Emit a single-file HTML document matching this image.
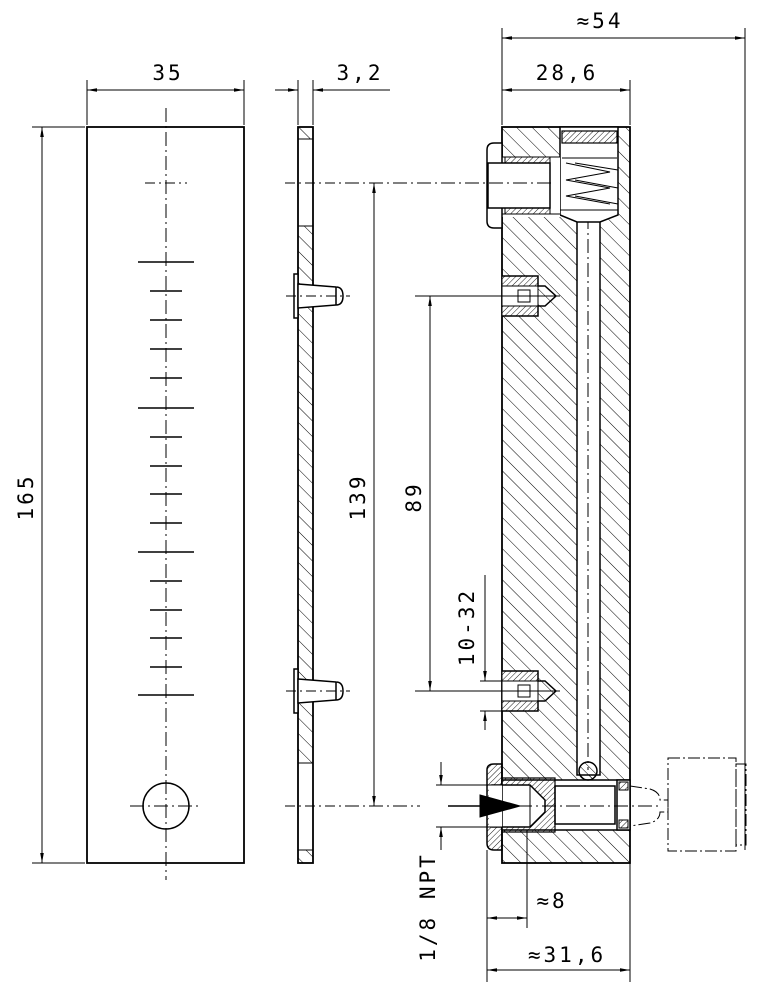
<!DOCTYPE html>
<html><head><meta charset="utf-8"><style>
html,body{margin:0;padding:0;background:#fff;}
svg{display:block;}
text{font-family:"DejaVu Sans Mono","Liberation Mono",monospace;font-size:21px;fill:#000;letter-spacing:3px;font-weight:lighter;}
</style></head><body>
<svg width="764" height="1000" viewBox="0 0 764 1000" xmlns="http://www.w3.org/2000/svg">
<defs>
<pattern id="h" width="11" height="11" patternUnits="userSpaceOnUse" patternTransform="rotate(-45)">
<line x1="0" y1="0" x2="0" y2="11" stroke="#000" stroke-width="1"/></pattern>
<pattern id="hf" width="4" height="4" patternUnits="userSpaceOnUse" patternTransform="rotate(45)">
<line x1="0" y1="0" x2="0" y2="4" stroke="#000" stroke-width="0.9"/></pattern>
<pattern id="hs" width="6" height="6" patternUnits="userSpaceOnUse" patternTransform="rotate(-45)">
<line x1="0" y1="0" x2="0" y2="6" stroke="#000" stroke-width="1"/></pattern>
<marker id="a" viewBox="0 0 10 10" refX="10" refY="5" markerWidth="10" markerHeight="10" markerUnits="userSpaceOnUse" orient="auto-start-reverse">
<path d="M0,3.2 L10,5 L0,6.8z" fill="#000"/></marker>
</defs>
<g stroke="#000" fill="none" stroke-width="1">
<rect x="87" y="127" width="157" height="736" stroke-width="1.8"/>
<line x1="166" y1="108" x2="166" y2="880" stroke-dasharray="14,4,2,4"/>
<line x1="145" y1="183" x2="187" y2="183" stroke-dasharray="10,4,2,4"/>
<line x1="130" y1="806" x2="202" y2="806" stroke-dasharray="14,4,2,4"/>
<circle cx="166" cy="806" r="23" stroke-width="1.5"/>
<g stroke-width="1.5">
<line x1="138" y1="262" x2="194" y2="262"/><line x1="150" y1="291" x2="182" y2="291"/>
<line x1="150" y1="320" x2="182" y2="320"/><line x1="150" y1="349" x2="182" y2="349"/>
<line x1="150" y1="378" x2="182" y2="378"/><line x1="138" y1="408" x2="194" y2="408"/>
<line x1="150" y1="437" x2="182" y2="437"/><line x1="150" y1="466" x2="182" y2="466"/>
<line x1="150" y1="494" x2="182" y2="494"/><line x1="150" y1="523" x2="182" y2="523"/>
<line x1="138" y1="552" x2="194" y2="552"/><line x1="150" y1="581" x2="182" y2="581"/>
<line x1="150" y1="610" x2="182" y2="610"/><line x1="150" y1="638" x2="182" y2="638"/>
<line x1="150" y1="667" x2="182" y2="667"/><line x1="138" y1="695" x2="194" y2="695"/>
</g>
<line x1="87" y1="80" x2="87" y2="125"/><line x1="244" y1="80" x2="244" y2="125"/>
<line x1="87" y1="90" x2="244" y2="90" marker-start="url(#a)" marker-end="url(#a)"/>
<line x1="32" y1="127" x2="85" y2="127"/><line x1="32" y1="863" x2="85" y2="863"/>
<line x1="42" y1="127" x2="42" y2="863" marker-start="url(#a)" marker-end="url(#a)"/>

<rect x="298" y="127" width="15" height="12" fill="url(#h)"/>
<rect x="298" y="226" width="15" height="537" fill="url(#h)"/>
<rect x="298" y="850" width="15" height="13" fill="url(#h)"/>
<rect x="298" y="127" width="15" height="736" stroke-width="1.8"/>
<line x1="298" y1="139" x2="313" y2="139"/><line x1="298" y1="226" x2="313" y2="226"/>
<line x1="298" y1="763" x2="313" y2="763"/><line x1="298" y1="850" x2="313" y2="850"/>
<line x1="285" y1="183" x2="345" y2="183" stroke-dasharray="10,4,2,4"/>
<line x1="285" y1="806" x2="345" y2="806" stroke-dasharray="10,4,2,4"/>
<g stroke-width="1.5">
<rect x="294" y="274" width="4" height="44" fill="#fff"/>
<path d="M298,284 L336,287 Q343,287 343,296 Q343,305 336,305 L298,308 Z" fill="#fff"/>
<line x1="336" y1="287" x2="336" y2="305"/>
<rect x="294" y="669" width="4" height="44" fill="#fff"/>
<path d="M298,679 L336,682 Q343,682 343,691 Q343,700 336,700 L298,703 Z" fill="#fff"/>
<line x1="336" y1="682" x2="336" y2="700"/>
</g>
<line x1="286" y1="296" x2="350" y2="296" stroke-dasharray="10,4,2,4"/>
<line x1="286" y1="691" x2="350" y2="691" stroke-dasharray="10,4,2,4"/>
<line x1="298" y1="80" x2="298" y2="125"/><line x1="313" y1="80" x2="313" y2="125"/>
<line x1="275" y1="90" x2="298" y2="90" marker-end="url(#a)"/>
<line x1="313" y1="90" x2="390" y2="90" marker-start="url(#a)"/>

<rect x="502" y="127" width="128" height="736" fill="url(#h)" stroke-width="1.8"/>
<rect x="577" y="215" width="23" height="560" fill="#fff" stroke-width="1.5"/>
<line x1="588" y1="215" x2="588" y2="770" stroke-dasharray="14,4,2,4"/>
<path d="M560,127 L560,215 L577,222 L600,222 L618,215 L618,127 Z" fill="#fff" stroke-width="1.5"/>
<rect x="562" y="131" width="55" height="12" fill="url(#hf)" stroke-width="1.2"/>
<line x1="562" y1="158" x2="617" y2="158"/>
<path d="M566,163 L610,172 L566,180 L610,188 L566,196 L610,204" stroke-width="1"/>
<path d="M575,163 L618,170 M575,180 L618,188 M575,196 L618,204"/>
<rect x="502" y="157" width="58" height="60" fill="#fff" stroke="none"/>
<rect x="505" y="157" width="45" height="6" fill="url(#hf)"/>
<rect x="505" y="208" width="45" height="6" fill="url(#hf)"/>
<path d="M487,150 Q487,143 494,143 L502,143 L502,228 L494,228 Q487,228 487,221 Z" fill="#fff" stroke-width="1.5"/>
<rect x="488" y="163" width="62" height="45" fill="#fff" stroke-width="1.5"/>
<line x1="502" y1="157" x2="560" y2="157"/><line x1="502" y1="214" x2="560" y2="214"/>
<line x1="550" y1="157" x2="550" y2="214"/>
<g>
<rect x="502" y="276" width="36" height="40" fill="#fff"/>
<rect x="502" y="276" width="36" height="10" fill="url(#hf)"/>
<rect x="502" y="306" width="36" height="10" fill="url(#hf)"/>
<path d="M502,276 L538,276 L538,286 L545,286 L556,296 L545,306 L538,306 L538,316 L502,316" stroke-width="1.5"/>
<rect x="518" y="290" width="12" height="12"/>
<rect x="502" y="671" width="36" height="40" fill="#fff"/>
<rect x="502" y="671" width="36" height="10" fill="url(#hf)"/>
<rect x="502" y="701" width="36" height="10" fill="url(#hf)"/>
<path d="M502,671 L538,671 L538,681 L545,681 L556,691 L545,701 L538,701 L538,711 L502,711" stroke-width="1.5"/>
<rect x="518" y="685" width="12" height="12"/>
</g>
<rect x="502" y="780" width="128" height="50" fill="#fff" stroke="none"/>
<path d="M502,780 L630,780 M502,830 L630,830" stroke-width="1.5"/>
<rect x="555" y="786" width="60" height="38" stroke-width="1.5"/>
<rect x="617" y="780" width="13" height="50" fill="#fff" stroke-width="1.5"/>
<rect x="619" y="782" width="9" height="8" fill="url(#hf)"/>
<rect x="619" y="820" width="9" height="8" fill="url(#hf)"/>
<circle cx="588" cy="771" r="9" fill="url(#hs)" stroke-width="1.5"/>
<path d="M502,778 L555,778 L555,832 L502,832 Z" fill="url(#hf)" stroke-width="1.2"/>
<path d="M492,785 L530,785 L545,800 L545,812 L530,827 L492,827 Z" fill="#fff" stroke-width="1.5"/>
<line x1="530" y1="785" x2="530" y2="827"/>
<path d="M487,770 Q487,764 494,764 L502,764 L502,850 L494,850 Q487,850 487,843 Z" fill="url(#hf)" stroke-width="1.5"/>
<rect x="489" y="785" width="13" height="42" fill="#fff" stroke="none"/>
<line x1="489" y1="785" x2="530" y2="785"/><line x1="489" y1="827" x2="530" y2="827"/>
<line x1="470" y1="806" x2="660" y2="806" stroke-dasharray="14,4,2,4"/>
<path d="M448,806 L480,806" stroke-width="1.5"/>
<path d="M480,795 L520,806 L480,817 Z" fill="#000"/>
<g stroke-dasharray="12,3,2,3" stroke-width="1">
<path d="M630,786 L650,789 Q660,792 660,800 L668,800 L668,812 L660,812 Q660,820 650,823 L630,826"/>
<rect x="668" y="758" width="68" height="93"/>
<rect x="736" y="764" width="10" height="81"/>
</g>
<line x1="560" y1="210" x2="618" y2="210"/>

<line x1="345" y1="183" x2="555" y2="183" stroke-dasharray="14,4,2,4"/>
<line x1="345" y1="806" x2="420" y2="806" stroke-dasharray="14,4,2,4"/>
<line x1="415" y1="296" x2="560" y2="296"/>
<line x1="415" y1="691" x2="560" y2="691"/>
<line x1="374" y1="183" x2="374" y2="806" marker-start="url(#a)" marker-end="url(#a)"/>
<line x1="430" y1="296" x2="430" y2="691" marker-start="url(#a)" marker-end="url(#a)"/>
<line x1="485" y1="575" x2="485" y2="681" marker-end="url(#a)"/>
<line x1="485" y1="711" x2="485" y2="730" marker-start="url(#a)"/>
<line x1="480" y1="681" x2="502" y2="681"/><line x1="480" y1="711" x2="502" y2="711"/>
<line x1="502" y1="28" x2="502" y2="125"/><line x1="630" y1="80" x2="630" y2="125"/>
<line x1="745" y1="28" x2="745" y2="850"/>
<line x1="502" y1="38" x2="745" y2="38" marker-start="url(#a)" marker-end="url(#a)"/>
<line x1="502" y1="90" x2="630" y2="90" marker-start="url(#a)" marker-end="url(#a)"/>
<line x1="436" y1="785" x2="489" y2="785"/><line x1="436" y1="827" x2="489" y2="827"/>
<line x1="441" y1="762" x2="441" y2="785" marker-end="url(#a)"/>
<line x1="441" y1="827" x2="441" y2="850" marker-start="url(#a)"/>
<line x1="487" y1="850" x2="487" y2="982"/>
<line x1="527" y1="830" x2="527" y2="928"/>
<line x1="630" y1="863" x2="630" y2="982"/>
<line x1="487" y1="918" x2="527" y2="918" marker-start="url(#a)" marker-end="url(#a)"/>
<line x1="487" y1="970" x2="630" y2="970" marker-start="url(#a)" marker-end="url(#a)"/>
</g>
<text x="168" y="80" text-anchor="middle">35</text>
<text x="360" y="80" text-anchor="middle">3,2</text>
<text x="567" y="80" text-anchor="middle">28,6</text>
<text x="600" y="28" text-anchor="middle">≈54</text>
<text transform="translate(33,497) rotate(-90)" text-anchor="middle">165</text>
<text transform="translate(365,497) rotate(-90)" text-anchor="middle">139</text>
<text transform="translate(421,497) rotate(-90)" text-anchor="middle">89</text>
<text transform="translate(474,627) rotate(-90)" text-anchor="middle">10-32</text>
<text transform="translate(435,907) rotate(-90)" text-anchor="middle">1/8 NPT</text>
<text x="552" y="908" text-anchor="middle">≈8</text>
<text x="567" y="962" text-anchor="middle">≈31,6</text>
</svg>
</body></html>
